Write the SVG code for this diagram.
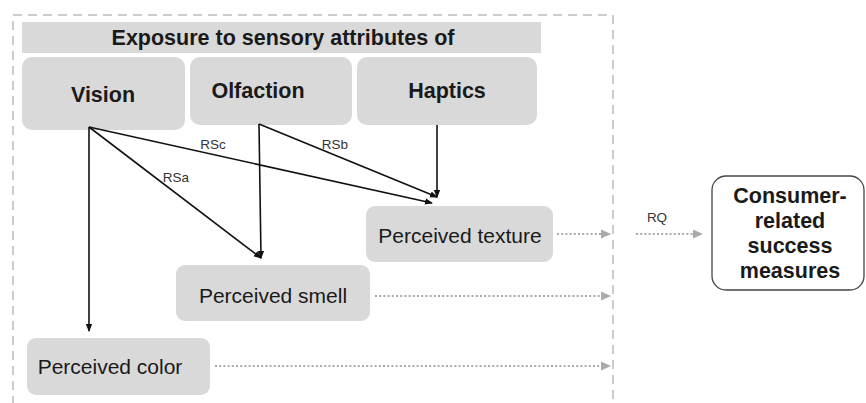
<svg xmlns="http://www.w3.org/2000/svg" width="866" height="403" viewBox="0 0 866 403">
<defs>
<style>
.box{fill:#d9d9d9;}
.t{font-family:"Liberation Sans",Arial,sans-serif;fill:#1a1a1a;text-anchor:middle;}
.b{font-weight:bold;font-size:21.5px;}
.r{font-size:21px;}
.c{font-weight:bold;font-size:21.5px;}
.lab{font-family:"Liberation Sans",Arial,sans-serif;font-size:13.5px;fill:#333;text-anchor:middle;}
.a{stroke:#111;stroke-width:1.6;fill:none;marker-end:url(#ah);}
.d{stroke:#aaa;stroke-width:2.2;stroke-dasharray:2 2.2;fill:none;marker-end:url(#dh);}
</style>
<marker id="ah" markerWidth="8" markerHeight="8" refX="7" refY="4" orient="auto" markerUnits="userSpaceOnUse"><path d="M0,0.8 L8,4 L0,7.2 Z" fill="#111"/></marker>
<marker id="dh" markerWidth="10" markerHeight="10" refX="9" refY="5" orient="auto" markerUnits="userSpaceOnUse"><path d="M0,0.5 L10,5 L0,9.5 Z" fill="#aaa"/></marker>
</defs>
<rect width="866" height="403" fill="#fff"/>
<path d="M13,405 V15 H613 V405" fill="none" stroke="#ccc" stroke-width="2" stroke-dasharray="9 6"/>
<g id="header"><rect class="box" x="22" y="22" width="519" height="31"/><text class="t b" x="283" y="45">Exposure to sensory attributes of</text></g>
<g id="vision"><rect class="box" x="22" y="57" width="163" height="73" rx="10"/><text class="t b" x="103" y="102">Vision</text></g>
<g id="olfaction"><rect class="box" x="190" y="57" width="162" height="68" rx="10"/><text class="t b" x="258" y="98">Olfaction</text></g>
<g id="haptics"><rect class="box" x="357" y="57" width="180" height="68" rx="10"/><text class="t b" x="447" y="98">Haptics</text></g>
<g id="texture"><rect class="box" x="366" y="206" width="187" height="56" rx="9"/><text class="t r" x="460" y="243">Perceived texture</text></g>
<g id="smell"><rect class="box" x="176" y="265" width="194" height="56" rx="9"/><text class="t r" x="273" y="303">Perceived smell</text></g>
<g id="color"><rect class="box" x="27" y="338" width="183" height="57" rx="9"/><text class="t r" x="110" y="374">Perceived color</text></g>
<g id="consumer"><rect x="712" y="176" width="152" height="114" rx="14" fill="#fff" stroke="#444" stroke-width="1.3"/>
<text class="t c" x="790" y="203">Consumer-</text>
<text class="t c" x="790" y="228">related</text>
<text class="t c" x="790" y="253">success</text>
<text class="t c" x="790" y="278">measures</text></g>
<g id="connectors">
<path class="a" d="M89,127 V331"/>
<path class="a" d="M89,127 L261,258"/>
<path class="a" d="M89,127 L432,203"/>
<path class="a" d="M259,124 L261,258"/>
<path class="a" d="M259,124 L437,197"/>
<path class="a" d="M437,125 V197"/>
<text class="lab" x="213" y="149">RSc</text>
<text class="lab" x="335" y="149">RSb</text>
<text class="lab" x="176" y="182">RSa</text>
<path class="d" d="M557,234 H610"/>
<path class="d" d="M636,234 H702"/>
<text class="lab" x="657" y="222">RQ</text>
<path class="d" d="M375,296 H610"/>
<path class="d" d="M215,366 H610"/>
</g>
</svg>
